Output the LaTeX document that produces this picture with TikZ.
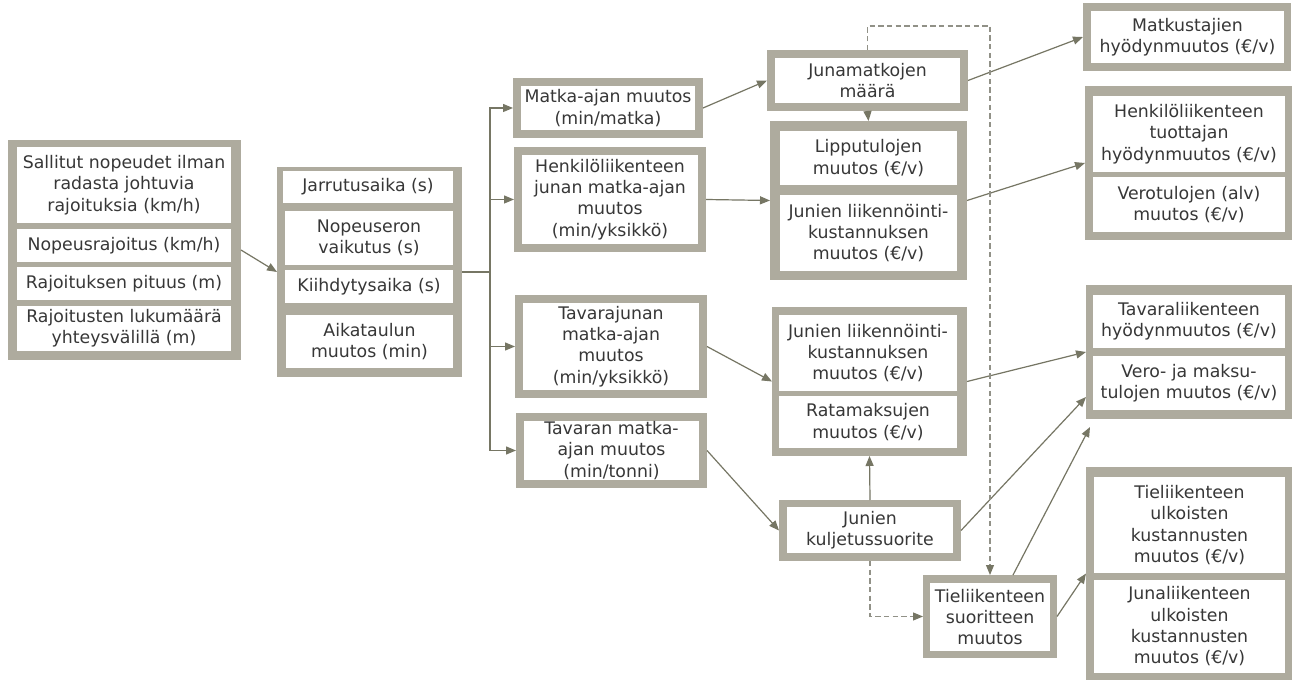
\documentclass[tikz,border=0pt]{standalone}
\usepackage{fontspec}
\setmainfont{DejaVu Sans}
\usetikzlibrary{arrows.meta,calc}
\definecolor{boxgray}{RGB}{174,171,158}
\definecolor{linecol}{RGB}{118,118,100}
\definecolor{dashcol}{RGB}{145,145,135}
\definecolor{txt}{RGB}{55,55,55}
\tikzset{
  outerbox/.style={fill=boxgray, draw=none, inner sep=0pt, outer sep=0pt},
  innerbox/.style={fill=white, draw=none, inner sep=0pt, outer sep=0pt, align=center, text=txt,
    font=\fontsize{13}{16}\selectfont},
  conn/.style={draw=linecol, line width=0.9pt, -{Triangle[length=7.5pt,width=6pt]}},
  busline/.style={draw=linecol, line width=1.4pt},
  dconn/.style={draw=dashcol, line width=0.8pt, dash pattern=on 4pt off 2.5pt,
    -{Triangle[length=7.5pt,width=6pt,fill=linecol,color=linecol]}}
}
\newcommand\obox[5]{\node[outerbox, minimum width={(#4-#2)*0.75pt}, minimum height={(#5-#3)*0.75pt}] (#1) at ({(#2+#4)/2},{(#3+#5)/2}) {};}
\newcommand\ibox[6]{\node[innerbox, minimum width={(#4-#2)*0.75pt}, minimum height={(#5-#3)*0.75pt}] (#1) at ({(#2+#4)/2},{(#3+#5)/2}) {#6};}
\begin{document}
\begin{tikzpicture}[x=0.75pt, y=-0.75pt]
\fill[white] (0,0) rectangle (1294,680);
\useasboundingbox (0,0) rectangle (1294,680);

% Group A
\obox{A}{8}{140}{241}{360}
\ibox{A1}{17}{147}{231}{223}{Sallitut nopeudet ilman\\radasta johtuvia\\rajoituksia (km/h)}
\ibox{A2}{17}{229}{231}{262}{Nopeusrajoitus (km/h)}
\ibox{A3}{17}{267}{231}{300}{Rajoituksen pituus (m)}
\ibox{A4}{17}{306}{231}{351}{Rajoitusten lukumäärä\\yhteysvälillä (m)}

% Group B
\obox{B}{277}{167}{462}{377}
\ibox{B1}{283}{171}{453}{203}{Jarrutusaika (s)}
\ibox{B2}{285}{211}{453}{265}{Nopeuseron\\vaikutus (s)}
\ibox{B3}{285}{270}{453}{303}{Kiihdytysaika (s)}
\ibox{B4}{286}{315}{453}{368}{Aikataulun\\muutos (min)}

% Column C
\obox{C1}{513}{78}{703}{138}
\ibox{C1t}{521}{86}{695}{130}{Matka-ajan muutos\\(min/matka)}
\obox{C2}{514}{147}{706}{252}
\ibox{C2t}{522}{155}{698}{244}{Henkilöliikenteen\\junan matka-ajan\\muutos\\(min/yksikkö)}
\obox{C3}{515}{295}{707}{398}
\ibox{C3t}{523}{303}{699}{390}{Tavarajunan\\matka-ajan\\muutos\\(min/yksikkö)}
\obox{C4}{516}{413}{707}{488}
\ibox{C4t}{524}{421}{699}{480}{Tavaran matka-\\ajan muutos\\(min/tonni)}

% Column D
\obox{D1}{767}{50}{968}{111}
\ibox{D1t}{775}{58}{960}{103}{Junamatkojen\\määrä}
\obox{D2}{770}{121}{967}{280}
\ibox{D2a}{780}{131}{957}{185}{Lipputulojen\\muutos (€/v)}
\ibox{D2b}{780}{195}{957}{271}{Junien liikennöinti-\\kustannuksen\\muutos (€/v)}
\obox{D3}{772}{307}{967}{456}
\ibox{D3a}{779}{315}{957}{391}{Junien liikennöinti-\\kustannuksen\\muutos (€/v)}
\ibox{D3b}{779}{396}{957}{448}{Ratamaksujen\\muutos (€/v)}
\obox{D4}{779}{500}{961}{561}
\ibox{D4t}{787}{507}{953}{553}{Junien\\kuljetussuorite}

% Box E
\obox{E}{923}{575}{1057}{658}
\ibox{Et}{930}{583}{1050}{651}{Tieliikenteen\\suoritteen\\muutos}

% Column F
\obox{F1}{1083}{3}{1291}{71}
\ibox{F1t}{1091}{11}{1284}{63}{Matkustajien\\hyödynmuutos (€/v)}
\obox{F2}{1085}{86}{1292}{240}
\ibox{F2a}{1093}{96}{1285}{172}{Henkilöliikenteen\\tuottajan\\hyödynmuutos (€/v)}
\ibox{F2b}{1093}{177}{1285}{232}{Verotulojen (alv)\\muutos (€/v)}
\obox{F3}{1086}{285}{1292}{419}
\ibox{F3a}{1093}{295}{1285}{348}{Tavaraliikenteen\\hyödynmuutos (€/v)}
\ibox{F3b}{1093}{356}{1285}{410}{Vero- ja maksu-\\tulojen muutos (€/v)}
\obox{F4}{1086}{467}{1292}{680}
\ibox{F4a}{1094}{477}{1285}{573}{Tieliikenteen\\ulkoisten\\kustannusten\\muutos (€/v)}
\ibox{F4b}{1094}{580}{1285}{673}{Junaliikenteen\\ulkoisten\\kustannusten\\muutos (€/v)}

% Connectors
\draw[conn] (A.east) -- (B.west);
\coordinate (bus) at (490,272);
\draw[busline] (B.east) -- (bus);
\draw[conn] (bus) |- (C1.west);
\draw[conn] (bus) |- (C2.west);
\draw[conn] (bus) |- (C3.west);
\draw[conn] (bus) |- (C4.west);

\draw[conn] (C1.east) -- (D1.west);
\draw[conn] (C2.east) -- (D2.west);
\draw[conn] (D1.south) -- (D2.north);
\draw[conn] (D1.east) -- (F1.west);
\draw[conn] (D2.east) -- (F2.west);
\draw[conn] (C3.east) -- (D3.west);
\draw[conn] (C4.east) -- (D4.west);
\draw[conn] (D4.north) -- (D3.south);
\draw[conn] (D3.east) -- (F3.west);
\coordinate (f3low) at (1086,397);
\draw[conn] (D4.east) -- (f3low);
\coordinate (f3below) at (1090,427);
\coordinate (Etop) at ($(E.north)+(23,0)$);
\draw[conn] (Etop) -- (f3below);
\draw[conn] (E.east) -- (F4.west);
\draw[dconn] (D4.south) |- (E.west);
\coordinate (dtop) at ($(D1.north)+(0,-24)$);
\draw[dconn] (D1.north) -- (dtop) -| (E.north);
\end{tikzpicture}
\end{document}
